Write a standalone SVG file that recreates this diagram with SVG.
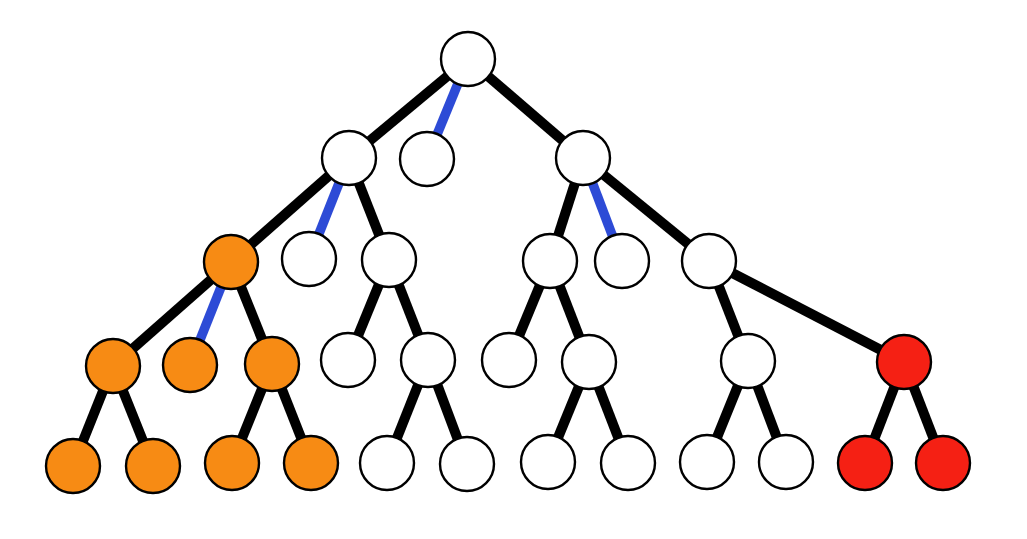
<svg xmlns="http://www.w3.org/2000/svg" width="1027" height="539" viewBox="0 0 1027 539">
<style>
.e{stroke:#000;stroke-width:10;stroke-linecap:butt}
.b{stroke:#2d4bd6;stroke-width:9.5}
circle{stroke:#000;stroke-width:2.4}
.w{fill:#fff}
.o{fill:#f78b14}
.r{fill:#f52014}
</style>
<rect width="1027" height="539" fill="#fff"/>
<g id="connectors">
<line class="e" x1="468" y1="59" x2="349" y2="158"/>
<line class="b" x1="468" y1="59" x2="427" y2="159"/>
<line class="e" x1="468" y1="59" x2="583" y2="158"/>
<line class="e" x1="349" y1="158" x2="231" y2="262"/>
<line class="b" x1="349" y1="158" x2="309" y2="259"/>
<line class="e" x1="349" y1="158" x2="389" y2="260"/>
<line class="e" x1="583" y1="158" x2="550" y2="261"/>
<line class="b" x1="583" y1="158" x2="622" y2="261"/>
<line class="e" x1="583" y1="158" x2="709" y2="261"/>
<line class="e" x1="231" y1="262" x2="113" y2="366"/>
<line class="b" x1="231" y1="262" x2="190" y2="365"/>
<line class="e" x1="231" y1="262" x2="272" y2="364"/>
<line class="e" x1="389" y1="260" x2="348" y2="360"/>
<line class="e" x1="389" y1="260" x2="428" y2="360"/>
<line class="e" x1="550" y1="261" x2="509" y2="360"/>
<line class="e" x1="550" y1="261" x2="589" y2="362"/>
<line class="e" x1="709" y1="261" x2="748" y2="361"/>
<line class="e" x1="709" y1="261" x2="904" y2="362"/>
<line class="e" x1="113" y1="366" x2="73" y2="466"/>
<line class="e" x1="113" y1="366" x2="153" y2="466"/>
<line class="e" x1="272" y1="364" x2="232" y2="463"/>
<line class="e" x1="272" y1="364" x2="311" y2="463"/>
<line class="e" x1="428" y1="360" x2="387" y2="463"/>
<line class="e" x1="428" y1="360" x2="467" y2="464"/>
<line class="e" x1="589" y1="362" x2="548" y2="462"/>
<line class="e" x1="589" y1="362" x2="628" y2="463"/>
<line class="e" x1="748" y1="361" x2="707" y2="462"/>
<line class="e" x1="748" y1="361" x2="786" y2="462"/>
<line class="e" x1="904" y1="362" x2="865" y2="463"/>
<line class="e" x1="904" y1="362" x2="943" y2="463"/>
</g>
<g id="n0"><circle class="w" cx="468" cy="59" r="27"/></g>
<g id="n1"><circle class="w" cx="349" cy="158" r="27"/></g>
<g id="n2"><circle class="w" cx="427" cy="159" r="27"/></g>
<g id="n3"><circle class="w" cx="583" cy="158" r="27"/></g>
<g id="n4"><circle class="o" cx="231" cy="262" r="27"/></g>
<g id="n5"><circle class="w" cx="309" cy="259" r="27"/></g>
<g id="n6"><circle class="w" cx="389" cy="260" r="27"/></g>
<g id="n7"><circle class="w" cx="550" cy="261" r="27"/></g>
<g id="n8"><circle class="w" cx="622" cy="261" r="27"/></g>
<g id="n9"><circle class="w" cx="709" cy="261" r="27"/></g>
<g id="n10"><circle class="o" cx="113" cy="366" r="27"/></g>
<g id="n11"><circle class="o" cx="190" cy="365" r="27"/></g>
<g id="n12"><circle class="o" cx="272" cy="364" r="27"/></g>
<g id="n13"><circle class="w" cx="348" cy="360" r="27"/></g>
<g id="n14"><circle class="w" cx="428" cy="360" r="27"/></g>
<g id="n15"><circle class="w" cx="509" cy="360" r="27"/></g>
<g id="n16"><circle class="w" cx="589" cy="362" r="27"/></g>
<g id="n17"><circle class="w" cx="748" cy="361" r="27"/></g>
<g id="n18"><circle class="r" cx="904" cy="362" r="27"/></g>
<g id="n19"><circle class="o" cx="73" cy="466" r="27"/></g>
<g id="n20"><circle class="o" cx="153" cy="466" r="27"/></g>
<g id="n21"><circle class="o" cx="232" cy="463" r="27"/></g>
<g id="n22"><circle class="o" cx="311" cy="463" r="27"/></g>
<g id="n23"><circle class="w" cx="387" cy="463" r="27"/></g>
<g id="n24"><circle class="w" cx="467" cy="464" r="27"/></g>
<g id="n25"><circle class="w" cx="548" cy="462" r="27"/></g>
<g id="n26"><circle class="w" cx="628" cy="463" r="27"/></g>
<g id="n27"><circle class="w" cx="707" cy="462" r="27"/></g>
<g id="n28"><circle class="w" cx="786" cy="462" r="27"/></g>
<g id="n29"><circle class="r" cx="865" cy="463" r="27"/></g>
<g id="n30"><circle class="r" cx="943" cy="463" r="27"/></g>
</svg>
